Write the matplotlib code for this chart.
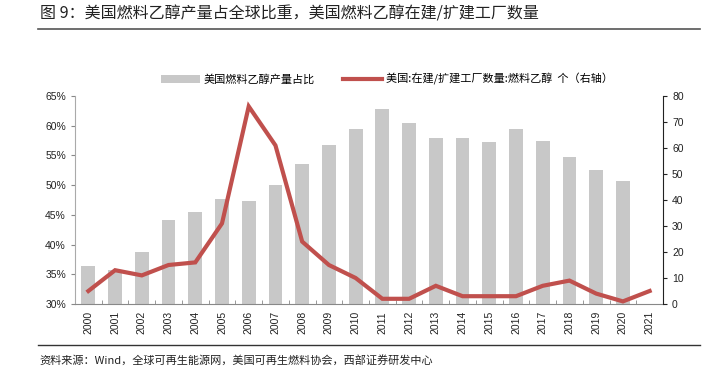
import matplotlib.pyplot as plt
from matplotlib.ticker import FuncFormatter, FixedLocator

plt.rcParams['font.family'] = ['Noto Sans CJK SC', 'DejaVu Sans']

years = [str(y) for y in range(2000, 2022)]
# 美国燃料乙醇产量占全球比重 (2021 无数据)
share = [0.364, 0.357, 0.388, 0.441, 0.455, 0.477, 0.473, 0.500, 0.536, 0.568,
         0.595, 0.628, 0.605, 0.579, 0.579, 0.573, 0.595, 0.574, 0.547, 0.526,
         0.507, None]
# 在建/扩建工厂数量 (右轴)
plants = [5, 13, 11, 15, 16, 31, 76, 61, 24, 15, 10, 2, 2, 7, 3, 3, 3, 7, 9, 4, 1, 5]

bar_color = '#C8C8C8'
line_color = '#C0504D'
num_font = ['Liberation Sans', 'DejaVu Sans']

fig = plt.figure(figsize=(7.15, 3.81), dpi=100)

fig.text(40 / 715, 1 - 14 / 381, '图 9：美国燃料乙醇产量占全球比重，美国燃料乙醇在建/扩建工厂数量',
         fontsize=11.5, color='#222222', va='center', ha='left')
fig.add_artist(plt.Line2D([38 / 715, 700 / 715], [1 - 29 / 381, 1 - 29 / 381],
                          color='#555555', lw=1.2))
fig.add_artist(plt.Line2D([38 / 715, 700 / 715], [1 - 345 / 381, 1 - 345 / 381],
                          color='#333333', lw=1.0))
fig.text(39 / 715, 1 - 360 / 381, '资料来源：Wind，全球可再生能源网，美国可再生燃料协会，西部证券研发中心',
         fontsize=8, color='#222222', va='center', ha='left')

ax = fig.add_axes([75 / 715, 1 - 304 / 381, 588 / 715, 208 / 381])
x = list(range(len(years)))
bx = [i for i, v in zip(x, share) if v is not None]
bv = [v for v in share if v is not None]
bars = ax.bar(bx, [v - 0.30 for v in bv], bottom=0.30, width=0.52, color=bar_color,
              zorder=2)
ax.set_ylim(0.30, 0.65)
ax.set_xlim(-0.5, len(years) - 0.5)
ax.set_yticks([0.30, 0.35, 0.40, 0.45, 0.50, 0.55, 0.60, 0.65])
ax.yaxis.set_major_formatter(FuncFormatter(lambda v, p: f'{v * 100:.0f}%'))
ax.set_xticks(x)
ax.set_xticklabels(years, rotation=90)
ax.xaxis.set_minor_locator(FixedLocator([i + 0.5 for i in x[:-1]]))
ax.tick_params(axis='x', which='major', length=0, pad=5, labelsize=7.5, colors='#222222')
ax.tick_params(axis='x', which='minor', length=3, direction='in', color='#888888')
ax.tick_params(axis='y', length=3, color='#888888', labelsize=7.5, labelcolor='#222222')
for lab in ax.get_xticklabels() + ax.get_yticklabels():
    lab.set_family(num_font)
for s in ['top', 'right']:
    ax.spines[s].set_visible(False)
ax.spines['left'].set_color('#AAAAAA')
ax.spines['bottom'].set_color('#888888')

ax2 = ax.twinx()
line, = ax2.plot(x, plants, color=line_color, lw=3, solid_joinstyle='miter', zorder=3)
ax2.set_ylim(0, 80)
ax2.set_yticks(range(0, 81, 10))
ax2.tick_params(axis='y', length=3, color='#222222', labelsize=7.5, labelcolor='#222222')
for lab in ax2.get_yticklabels():
    lab.set_family(num_font)
for s in ['top', 'left', 'bottom']:
    ax2.spines[s].set_visible(False)
ax2.spines['right'].set_color('#222222')

fig.legend([bars, line], ['美国燃料乙醇产量占比', '美国:在建/扩建工厂数量:燃料乙醇  个（右轴）'],
           loc='center', bbox_to_anchor=(0.541, 1 - 79 / 381), ncol=2, frameon=False,
           fontsize=8, handlelength=3.5, columnspacing=2.6, handletextpad=0.3)

fig.savefig('out.png', dpi=100)
